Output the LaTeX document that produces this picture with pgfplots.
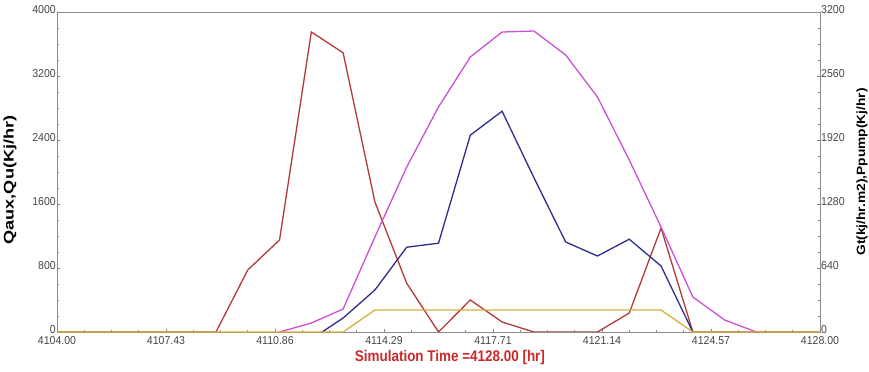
\documentclass[border=0pt]{standalone}
\usepackage{fontspec}
\setmainfont{Liberation Sans}
\usepackage{graphicx}
\usepackage{pgfplots}
\pgfplotsset{compat=1.18}
\definecolor{cred}{RGB}{178,58,58}
\definecolor{cblue}{RGB}{45,45,140}
\definecolor{cmag}{RGB}{205,80,215}
\definecolor{cyel}{RGB}{215,175,60}
\definecolor{axgray}{RGB}{140,140,140}
\definecolor{txtgray}{RGB}{70,70,70}
\definecolor{labred}{RGB}{205,40,40}
\newcommand{\V}[1]{\scalebox{1}[1.08]{#1}}
\pgfplotsset{
  common/.style={
    scale only axis, width=763bp, height=320bp,
    xmin=4104, xmax=4128,
    axis line style={axgray, line width=0.9bp},
    tick style={axgray, line width=0.6bp},
    tick align=inside, major tick length=3bp, minor tick length=2bp,
    minor y tick num=3,
    ticklabel style={font=\fontsize{10.6}{12}\selectfont, text=txtgray},
    yticklabel style={yshift=2.5bp, inner sep=1bp},
    /pgf/number format/assume math mode=true,
    /pgf/number format/1000 sep={},
    yticklabel={\V{\pgfmathprintnumber{\tick}}},
  }
}
\begin{document}
\begin{tikzpicture}
\useasboundingbox (-57bp,-40bp) rectangle (812bp,332bp);
\begin{axis}[common,
  ymin=0, ymax=4000,
  xtick={4104,4107.428571,4110.857143,4114.285714,4117.714286,4121.142857,4124.571429,4128},
  xticklabels={\V{4104.00},\V{4107.43},\V{4110.86},\V{4114.29},\V{4117.71},\V{4121.14},\V{4124.57},\V{4128.00}},
  xticklabel style={yshift=-3.5bp, inner sep=1bp},
  minor x tick num=3,
  ytick={0,800,...,4000},
  xtick pos=bottom, ytick pos=left,
  every axis x label/.style={at={(axis description cs:0.515,-0.08)}, anchor=center},
  every axis y label/.style={at={(axis description cs:-0.0616,0.475)}, rotate=90, anchor=center},
  xlabel={\scalebox{1}[1.15]{\fontsize{13.5}{15}\selectfont\bfseries\color{labred}Simulation Time =4128.00 [hr]}},
  ylabel={\scalebox{1.3}[1]{\fontsize{14}{16}\selectfont\bfseries Qaux,Qu(Kj/hr)}},
]
% Qaux (red)
\addplot[cred, line width=1.3bp] coordinates {
(4104,0)(4105,0)(4106,0)(4107,0)(4108,0)(4109,0)(4110,775)(4111,1150)(4112,3750)(4113,3490)
(4114,1625)(4115,610)(4116,0)(4117,400)(4118,125)(4119,0)(4120,0)(4121,0)(4122,237)(4123,1300)
(4124,0)(4125,0)(4126,0)(4127,0)(4128,0)};
% Qu (blue)
\addplot[cblue, line width=1.3bp] coordinates {
(4112,-90)(4113,175)(4114,525)(4115,1060)(4116,1110)(4117,2460)(4118,2760)(4119,1930)
(4120,1125)(4121,950)(4122,1160)(4123,825)(4124,0)};
\end{axis}
\begin{axis}[common,
  ymin=0, ymax=3200,
  axis x line=none, axis y line*=right,
  ytick={0,640,...,3200},
  every axis y label/.style={at={(axis description cs:1.055,0.5)}, rotate=90, anchor=center},
  ylabel={\scalebox{1.15}[1]{\fontsize{12}{14}\selectfont\bfseries Gt(kj/hr.m2),Ppump(Kj/hr)}},
]
% Gt (magenta)
\addplot[cmag, line width=1.3bp] coordinates {
(4111,0)(4112,90)(4113,230)(4114,950)(4115,1650)(4116,2250)(4117,2750)(4118,3000)(4119,3010)
(4120,2770)(4121,2350)(4122,1720)(4123,1050)(4124,350)(4125,120)(4126,0)};
% Ppump (yellow)
\addplot[cyel, line width=1.3bp] coordinates {
(4104,0)(4105,0)(4106,0)(4107,0)(4108,0)(4109,0)(4110,0)(4111,0)(4112,0)(4113,0)
(4114,220)(4115,220)(4116,220)(4117,220)(4118,220)(4119,220)(4120,220)(4121,220)(4122,220)(4123,220)
(4124,0)(4125,0)(4126,0)(4127,0)(4128,0)};
\end{axis}
\end{tikzpicture}
\end{document}
